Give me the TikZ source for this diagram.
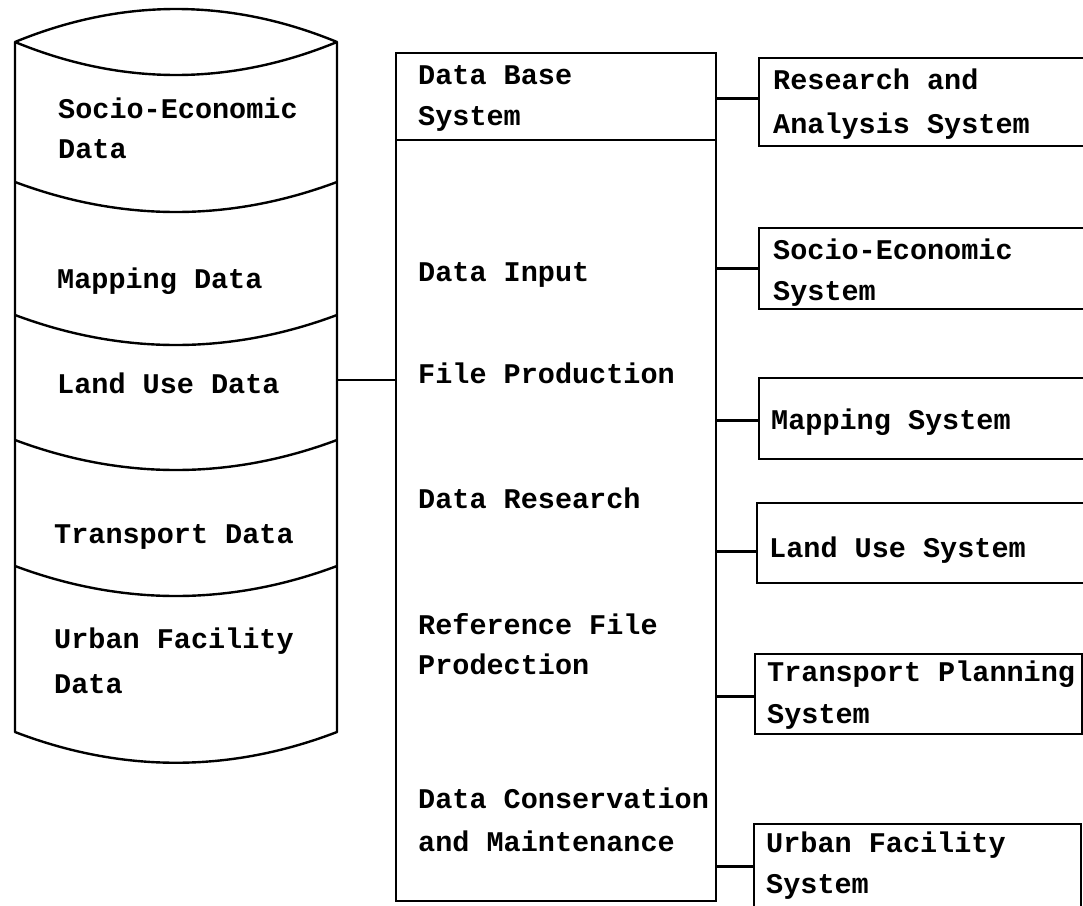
\documentclass[tikz,border=0pt]{standalone}
\usepackage{fontspec}
\setmainfont{Liberation Mono}
\begin{document}
\begin{tikzpicture}[x=1pt,y=-1pt,
  outline/.style={line width=2.4pt, line join=round},
  txt/.style={anchor=base west, inner sep=0pt, font=\fontsize{28.5}{42}\selectfont\bfseries},
  framebox/.style={draw, line width=2.4pt, anchor=north west, inner sep=0pt},
  sysbox/.style={framebox, minimum width=340pt},
  link/.style={line width=2.6pt}]
\useasboundingbox (0,0) rectangle (1083,905);
\fill[white] (0,0) rectangle (1083,905);
\clip (0,0) rectangle (1083,905);

% ---- data cylinder ----
\draw[outline] (15,42) -- (15,732) .. controls (122,773) and (230,773) .. (337,732)
  -- (337,42) .. controls (230,-2) and (122,-2) .. (15,42) -- cycle;
\draw[outline] (15,42) .. controls (122,86) and (230,86) .. (337,42);
\foreach \yy in {182,315,440,566}
  \draw[outline] (15,\yy) .. controls (122,\yy+40) and (230,\yy+40) .. (337,\yy);
\coordinate (cylR) at (337,380);

\node[txt] (c1a) at (58,118) {Socio-Economic};
\node[txt] (c1b) at (58,158) {Data};
\node[txt] (c2)  at (57,288) {Mapping Data};
\node[txt] (c3)  at (57,393) {Land Use Data};
\node[txt] (c4)  at (54,543) {Transport Data};
\node[txt] (c5a) at (54,648) {Urban Facility};
\node[txt] (c5b) at (54,693) {Data};

% ---- data base system block ----
\node[framebox, minimum width=320pt, minimum height=848pt] (dbs) at (395,52) {};
\draw[outline] ([yshift=-88pt]dbs.north west) -- ([yshift=-88pt]dbs.north east);
\draw[link] (cylR) -- (cylR -| dbs.west);

\node[txt] (m1a) at (418,84)  {Data Base};
\node[txt] (m1b) at (418,125) {System};
\node[txt] (m2)  at (418,281) {Data Input};
\node[txt] (m3)  at (418,383) {File Production};
\node[txt] (m4)  at (418,508) {Data Research};
\node[txt] (m5a) at (418,634) {Reference File};
\node[txt] (m5b) at (418,674) {Prodection};
\node[txt] (m6a) at (418,808) {Data Conservation};
\node[txt] (m6b) at (418,851) {and Maintenance};

% ---- application systems ----
\node[sysbox, minimum height=88pt] (res)  at (758,57)  {};
\node[sysbox, minimum height=81pt] (soc)  at (758,227) {};
\node[sysbox, minimum height=81pt] (map)  at (758,377) {};
\node[sysbox, minimum height=80pt] (land) at (756,502) {};
\node[framebox, minimum width=327pt, minimum height=80pt]  (trans) at (754,653) {};
\node[framebox, minimum width=327pt, minimum height=110pt] (urb)   at (753,823) {};

\draw[link] ([yshift=4pt]res.west)    -- ([yshift=4pt]res.west -| dbs.east);
\draw[link] (soc.west)                -- (soc.west -| dbs.east);
\draw[link] ([yshift=-2pt]map.west)   -- ([yshift=-2pt]map.west -| dbs.east);
\draw[link] ([yshift=-8pt]land.west)  -- ([yshift=-8pt]land.west -| dbs.east);
\draw[link] ([yshift=-2pt]trans.west) -- ([yshift=-2pt]trans.west -| dbs.east);
\draw[link] ([yshift=13pt]urb.west)   -- ([yshift=13pt]urb.west -| dbs.east);

\node[txt] (r1a) at (773,89)  {Research and};
\node[txt] (r1b) at (773,133) {Analysis System};
\node[txt] (r2a) at (773,259) {Socio-Economic};
\node[txt] (r2b) at (773,300) {System};
\node[txt] (r3)  at (771,429) {Mapping System};
\node[txt] (r4)  at (769,557) {Land Use System};
\node[txt] (r5a) at (767,681) {Transport Planning};
\node[txt] (r5b) at (767,723) {System};
\node[txt] (r6a) at (766,852) {Urban Facility};
\node[txt] (r6b) at (766,893) {System};
\end{tikzpicture}
\end{document}
